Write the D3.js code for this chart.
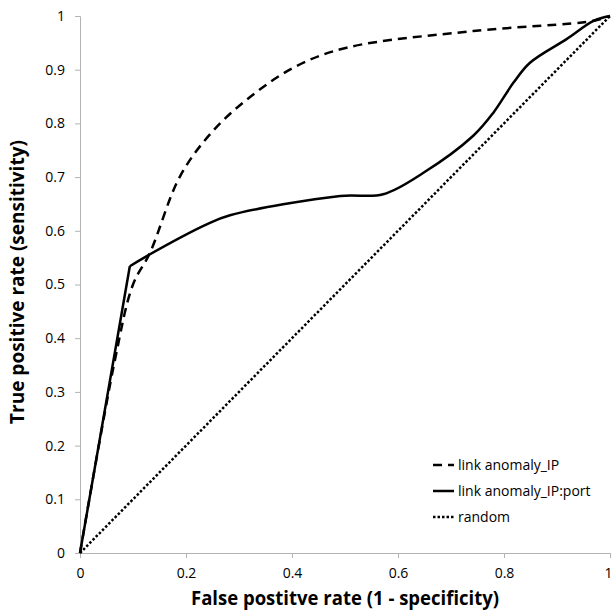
<!DOCTYPE html>
<html>
<head>
<meta charset="utf-8">
<script src="https://cdn.jsdelivr.net/npm/d3@7"></script>
<style>
  body { margin: 0; background: #fff; }
  svg { display: block; font-family: "Open Sans", "Noto Sans", sans-serif; }
</style>
</head>
<body>
<svg width="612" height="614"></svg>
<script>
// ROC curve points (FPR, TPR)
const ipFpr   = [0, 0.066, 0.1, 0.132, 0.189, 0.251, 0.327, 0.409, 0.503, 0.742, 0.969, 1];
const ipTpr   = [0, 0.36, 0.5, 0.559, 0.702, 0.786, 0.854, 0.907, 0.941, 0.972, 0.991, 1];
const portFpr = [0, 0.094, 0.126, 0.239, 0.283, 0.491, 0.572, 0.648, 0.742, 0.78, 0.818, 0.849, 0.918, 0.969, 1];
const portTpr = [0, 0.534, 0.553, 0.612, 0.629, 0.665, 0.668, 0.708, 0.777, 0.82, 0.876, 0.913, 0.957, 0.991, 1];
const randFpr = [0, 1];
const randTpr = [0, 1];

const seriesNames = ["link anomaly_IP", "link anomaly_IP:port", "random"];
const xTicks = [0, 0.2, 0.4, 0.6, 0.8, 1];
const yTicks = [0, 0.1, 0.2, 0.3, 0.4, 0.5, 0.6, 0.7, 0.8, 0.9, 1];

// plot box in pixels
const margin = { top: 16, right: 2, bottom: 61, left: 80 },
      width = 612 - margin.left - margin.right,
      height = 614 - margin.top - margin.bottom;

const svg = d3.select("svg")
    .append("g")
    .attr("transform", `translate(${margin.left},${margin.top})`);

const x = d3.scaleLinear().domain([0, 1]).range([0, width]);
const y = d3.scaleLinear().domain([0, 1]).range([height, 0]);

const fmt = d => d === 0 || d === 1 ? String(d) : d3.format(".1f")(d);

// axes
const xAxis = svg.append("g")
    .attr("transform", `translate(0,${height})`)
    .call(d3.axisBottom(x).tickValues(xTicks).tickFormat(fmt).tickSize(5).tickPadding(10));

const yAxis = svg.append("g")
    .call(d3.axisLeft(y).tickValues(yTicks).tickFormat(fmt).tickSize(5).tickPadding(10));

[xAxis, yAxis].forEach(g => {
    g.selectAll(".domain, .tick line").attr("stroke", "#b3b3b3");
    g.selectAll(".tick text")
        .attr("fill", "#000")
        .style("font-size", "14px")
        .style("font-family", "'Open Sans', sans-serif");
});
// keep the last x label inside the page
xAxis.selectAll(".tick text").filter(d => d === 1).attr("dx", -2);

// series; "straight" = index up to which the line is drawn straight (sharp corner)
const series = [
    { name: seriesNames[0], data: ipFpr.map((v, i) => [v, ipTpr[i]]), dash: "9,6", straight: 0 },
    { name: seriesNames[1], data: portFpr.map((v, i) => [v, portTpr[i]]), dash: null, straight: 1 },
    { name: seriesNames[2], data: randFpr.map((v, i) => [v, randTpr[i]]), dash: "2.5,2", straight: 0 }
];

const smooth = d3.line()
    .x(d => x(d[0]))
    .y(d => y(d[1]))
    .curve(d3.curveCatmullRom.alpha(0.5));

const straight = d3.line()
    .x(d => x(d[0]))
    .y(d => y(d[1]));

series.forEach(s => {
    const parts = s.straight > 0
        ? [straight(s.data.slice(0, s.straight + 1)), smooth(s.data.slice(s.straight))]
        : [smooth(s.data)];
    svg.append("path")
        .attr("fill", "none")
        .attr("stroke", "#000")
        .attr("stroke-width", 2.5)
        .attr("stroke-linejoin", "round")
        .attr("stroke-dasharray", s.dash)
        .attr("d", parts.join(""));
});

// legend
const legend = svg.append("g")
    .attr("transform", `translate(${433 - margin.left},${465 - margin.top})`);

series.forEach((s, i) => {
    const row = legend.append("g").attr("transform", `translate(0,${i * 26})`);
    row.append("line")
        .attr("x1", 0).attr("x2", 21)
        .attr("stroke", "#000")
        .attr("stroke-width", 2.5)
        .attr("stroke-dasharray", s.dash);
    row.append("text")
        .attr("x", 25)
        .attr("dy", "0.35em")
        .style("font-size", "14px")
        .text(s.name);
});

// axis titles
const fit = (sel, w) => {
    const len = sel.node().getComputedTextLength();
    if (len > w) sel.attr("textLength", w).attr("lengthAdjust", "spacingAndGlyphs");
};

const xTitle = svg.append("text")
    .attr("x", width / 2)
    .attr("y", height + 52)
    .attr("text-anchor", "middle")
    .style("font-size", "19px")
    .style("font-weight", "bold")
    .text("False postitve rate (1 - specificity)");
fit(xTitle, 308);

const yTitle = svg.append("text")
    .attr("transform", "rotate(-90)")
    .attr("x", -(282 - margin.top))
    .attr("y", -margin.left + 24)
    .attr("text-anchor", "middle")
    .style("font-size", "19px")
    .style("font-weight", "bold")
    .text("True positive rate (sensitivity)");
fit(yTitle, 312);
</script>
</body>
</html>
